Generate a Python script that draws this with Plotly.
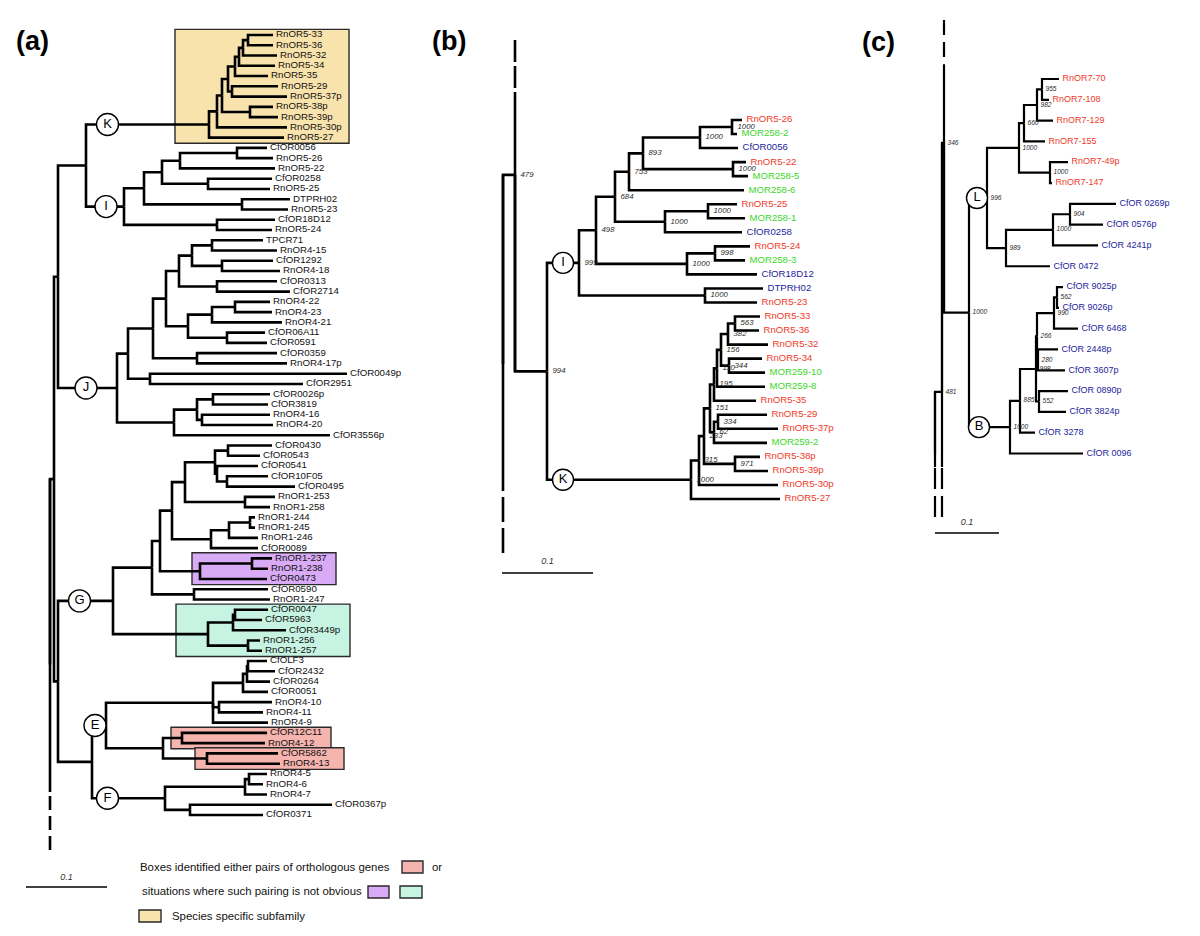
import plotly.graph_objects as go

FONT = "Liberation Sans, Arial, Helvetica, sans-serif"

# ============================ DATA ============================
# Trees in Newick form. Internal labels: bootstrap value and/or clade letter ("999|I").
# Branch lengths are in drawing units; UNITS_PER_01 units correspond to 0.1 subst./site.

# ---- Panel (a)
A_K = "((((((((RnOR5-33:25,RnOR5-36:25):5,RnOR5-32:34):4,RnOR5-34:36):4,RnOR5-35:33):7,(RnOR5-29:46,RnOR5-37p:55):4):6,(RnOR5-38p:23,RnOR5-39p:28):28):5,RnOR5-30p:70):8,RnOR5-27:75)K:123"
A_I = "(((((CfOR0056:30,RnOR5-26:36):57,RnOR5-22:95):18,(CfOR0258:64,RnOR5-25:62):46):18,(DTPRH02:48,RnOR5-23:46):98):20,(CfOR18D12:58,RnOR5-24:55):93)I:38"
A_J = "(((((((TPCR71:51,RnOR4-15:65):20,(CfOR1292:51,RnOR4-18:58):30):13,(CfOR0313:60,CfOR2714:73):38):13,(((RnOR4-22:35,RnOR4-23:37):23,RnOR4-21:70):24,(CfOR06A11:38,CfOR0591:40):39):22):13,(CfOR0359:80,RnOR4-17p:90):44):25,(CfOR0049p:197,CfOR2951:153):22):11,(((CfOR0026p:57,CfOR3819:55):16,(RnOR4-16:68,RnOR4-20:71):5):23,CfOR3556p:156):57)J:59"
A_G = "(((((((CfOR0430:44,CfOR0543:32):13,(CfOR0541:41,(CfOR10F05:41,CfOR0495:68):10):2):30,(RnOR1-253:30,RnOR1-258:25):60):13,(((RnOR1-244:5,RnOR1-245:5):21,RnOR1-246:29):18,CfOR0089:47):39):12,((RnOR1-237:20,RnOR1-238:16):52,CfOR0473:67):40):8,(CfOR0590:74,RnOR1-247:76):42):39,(((CfOR0047:33,CfOR5963:27):2,CfOR3449p:53):25,(RnOR1-256:12,RnOR1-257:14):40):95)G:55"
A_E = "(((((CfOLF3:19,CfOR2432:27):1,CfOR0264:23):4,CfOR0051:25):30,(RnOR4-10:53,RnOR4-11:44):6,RnOR4-9:55):107,((CfOR12C11:85,RnOR4-12:83):19,(CfOR5862:71,RnOR4-13:73):44):57)E:14"
A_F = "(((RnOR4-5:18,RnOR4-6:14):4,RnOR4-7:22):80,(CfOR0367p:142,CfOR0371:73):25)F:73"
TREE_A = f"(((({A_K},{A_I}):28,{A_J}):4,({A_G},({A_E},{A_F}):34):4):4,_out:0)"

# ---- Panel (b)
B_I = "(((((((RnOR5-26:10,MOR258-2:5)1000:32,CfOR0056:38)1000:57,(RnOR5-22:13,MOR258-5:15)1000:90)893:14,MOR258-6:115)753:14,((RnOR5-25:29,MOR258-1:37)1000:43,CfOR0258:77)1000:50)684:19,((RnOR5-24:35,MOR258-3:30)998:28,CfOR18D12:70)1000:91)498:17,(DTPRH02:58,RnOR5-23:52)1000:126)999|I:32"
B_K = "(((((((((RnOR5-33:25,RnOR5-36:24)563:7,RnOR5-32:40)382:7,(RnOR5-34:33,MOR259-10:36)344:8)156:4,MOR259-8:48)110:3,RnOR5-35:42)195:4,((RnOR5-29:49,RnOR5-37p:60)334:4,MOR259-2:53)62:4)151:6,(RnOR5-38p:25,RnOR5-39p:33)971:31)233:5,RnOR5-30p:79)315:8,RnOR5-27:89)1000|K:144"
TREE_B = f"((_top:0,({B_I},{B_K})994:32)479:12,_out:0)"

# ---- Panel (c)
C_L = "(((((RnOR7-70:17,RnOR7-108:7)955:5,RnOR7-129:16)982:13,RnOR7-155:21)660:5,(RnOR7-49p:18,RnOR7-147:2)1000:31)1000:32,(((CfOR 0269p:46,CfOR 0576p:33)904:17,CfOR 4241p:45)1000:47,CfOR 0472:44)989:19)996|L:18"
C_B = "((((((CfOR 9025p:6,CfOR 9026p:2)562:3,CfOR 6468:24)990:17,(CfOR 2448p:20,CfOR 3607p:27)280:1)266:1,(CfOR 0890p:29,CfOR 3824p:27)552:3)998:16,CfOR 3278:15)885:10,CfOR 0096:73)1000|B:41"
TREE_C = f"(((_topN:0,({C_L},{C_B})1000:25)346:2,_outN:0)481:7,_outR:0)"

# Boxes of panel (a): first leaf, last leaf, left/right (drawing units from root), fill
A_BOXES = [
    ("RnOR5-33", "RnOR5-27", 125, 299, "#F9E3AC"),
    ("RnOR1-237", "CfOR0473", 142, 286, "#D9ABF6"),
    ("CfOR0047", "RnOR1-257", 126, 300, "#C7F4E2"),
    ("CfOR12C11", "RnOR4-12", 121, 281, "#F6B4AF"),
    ("CfOR5862", "RnOR4-13", 145, 294, "#F6B4AF"),
]
LEGEND_TEXT = [
    "Boxes identified either pairs of orthologous genes",
    "or",
    "situations where such pairing is not obvious",
    "Species specific subfamily",
]
PANEL_LABELS = ["(a)", "(b)", "(c)"]
SCALE_LABEL = "0.1"

RED, GREEN, BLUE = "#EE3A28", "#3CD72A", "#1E1E9C"

# ============================ LAYOUT / STYLE ============================
PAGE_MARGIN = 8            # browser body margin around the plot div
W, H = 1200 - 2 * PAGE_MARGIN, 936 - 2 * PAGE_MARGIN
PANELS = [
    dict(tree=TREE_A, sfx="", units=81.0, root_px=50, first_px=35, last_px=815,
         phantoms={"_out": (79.41, 79.41, 5.65, "14px,6px")},
         circles={"K": 21.5, "I": 20, "J": 28, "G": 21.5, "E": 3, "F": 15.5}, csize=22,
         lw=2.6, fsize=9.7, tipgap=3, colored=False, bsize=7.6, bgap=5,
         scale=dict(x0=-24, y=887, ly=878)),
    dict(tree=TREE_B, sfx="2", units=91.0, root_px=503, first_px=120, last_px=499,
         phantoms={"_top": (-10.08, -5.70, 3.92, "22px,4px"),
                   "_out": (30.85, 30.85, 4.49, "25px,6px")},
         circles={"I": 16, "K": 16}, csize=21,
         lw=2.6, fsize=9.6, tipgap=4.5, colored=True, bsize=7.8, bgap=5.5,
         scale=dict(x0=-1, y=573, ly=562)),
    dict(tree=TREE_C, sfx="3", units=64.0, root_px=935, first_px=79, last_px=453.5,
         phantoms={"_topN": (-5.08, -2.84, 2.16, "15px,7px"),
                   "_outN": (27.01, 21.05, 2.40, "21px,7px"),
                   "_outR": (21.05, 21.05, 2.40, "21px,7px")},
         circles={"L": 8, "B": 10}, csize=21,
         lw=2.2, fsize=9.0, tipgap=3.5, colored=True, bsize=6.6, bgap=3.5,
         scale=dict(x0=0, y=533, ly=523)),
]


def parse_newick(s):
    s = s.strip().rstrip(";")
    pos = 0

    def read_node():
        nonlocal pos
        node = {"children": [], "name": "", "len": 0.0, "parent": None}
        if s[pos] == "(":
            pos += 1
            while True:
                child = read_node()
                child["parent"] = node
                node["children"].append(child)
                ch = s[pos]
                pos += 1
                if ch == ")":
                    break
                if ch != ",":
                    raise ValueError("bad newick near: " + s[max(0, pos - 20):pos + 20])
        start = pos
        while pos < len(s) and s[pos] not in ",():":
            pos += 1
        node["name"] = s[start:pos].strip()
        if pos < len(s) and s[pos] == ":":
            pos += 1
            start = pos
            while pos < len(s) and s[pos] not in ",()":
                pos += 1
            node["len"] = float(s[start:pos])
        return node

    root = read_node()
    if pos != len(s):
        raise ValueError("trailing text in newick: " + s[pos:])
    return root


def layout_tree(root, phantoms):
    nodes = []
    counter = [0]

    def walk(n, x0):
        n["x"] = x0 + n["len"]
        nodes.append(n)
        if n["children"]:
            for c in n["children"]:
                walk(c, n["x"])
            n["y"] = (n["children"][0]["y"] + n["children"][-1]["y"]) / 2.0
        elif n["name"] in phantoms:
            n["phantom"] = True
            n["y"] = phantoms[n["name"]][0]
        else:
            n["y"] = float(counter[0])
            counter[0] += 1

    walk(root, 0.0)
    return nodes, counter[0]


def split_label(name):
    boot, clade = "", ""
    for part in name.split("|"):
        part = part.strip()
        if part.isdigit():
            boot = part
        elif part:
            clade = part
    return boot, clade


def leaf_color(name):
    if name.startswith("RnOR"):
        return RED
    if name.startswith("MOR"):
        return GREEN
    return BLUE


fig = go.Figure()
shapes = []
annotations = []
layout_axes = {}

for P in PANELS:
    root = parse_newick(P["tree"])
    nodes, nleaves = layout_tree(root, P["phantoms"])
    u = 0.1 / P["units"]
    root_px = P["root_px"] - PAGE_MARGIN
    first_px = P["first_px"] - PAGE_MARGIN
    sp = (P["last_px"] - P["first_px"]) / (nleaves - 1)
    xa, ya = "x" + P["sfx"], "y" + P["sfx"]
    xr = [-root_px * u, (W - root_px) * u]
    yr = [(H - first_px) / sp, -first_px / sp]
    layout_axes["xaxis" + P["sfx"]] = dict(domain=[0, 1], range=xr, visible=False,
                                           fixedrange=True, anchor=ya)
    layout_axes["yaxis" + P["sfx"]] = dict(domain=[0, 1], range=yr, visible=False,
                                           fixedrange=True, anchor=xa)

    lx, ly = [], []
    dashed = []
    leaves, boots, circ = [], [], []
    for n in nodes:
        kids = n["children"]
        if not kids:
            if not n.get("phantom"):
                leaves.append(n)
            continue
        real = [c for c in kids if not c.get("phantom")]
        for c in real:
            lx += [n["x"] * u, n["x"] * u, c["x"] * u, None]
            ly += [n["y"], c["y"], c["y"], None]
        for c in kids:
            if not c.get("phantom"):
                continue
            _, end, dlen, pattern = P["phantoms"][c["name"]]
            lo = min(r["y"] for r in real)
            hi = max(r["y"] for r in real)
            if end < lo:
                start, mid = lo, end + dlen
            else:
                start, mid = hi, end - dlen
            lx += [n["x"] * u, n["x"] * u, None]
            ly += [start, mid, None]
            dashed.append((n["x"] * u, end, mid, pattern))
        boot, clade = split_label(n["name"])
        if boot:
            boots.append(((n["x"] + P["bgap"]) * u, n["y"], boot))
        if clade and n["parent"] is not None:
            circ.append(((n["parent"]["x"] + P["circles"][clade]) * u, n["y"], clade))

    fig.add_trace(go.Scatter(x=lx, y=ly, mode="lines", xaxis=xa, yaxis=ya,
                             line=dict(color="black", width=P["lw"]),
                             hoverinfo="skip", showlegend=False))
    for (x, y0, y1, pattern) in dashed:
        fig.add_trace(go.Scatter(x=[x, x], y=[y0, y1], mode="lines", xaxis=xa, yaxis=ya,
                                 line=dict(color="black", width=P["lw"], dash=pattern),
                                 hoverinfo="skip", showlegend=False))

    # leaf labels
    groups = {}
    for lf in leaves:
        col = leaf_color(lf["name"]) if P["colored"] else "#111111"
        groups.setdefault(col, []).append(lf)
    for col, lst in groups.items():
        fig.add_trace(go.Scatter(
            x=[(lf["x"] + P["tipgap"]) * u for lf in lst], y=[lf["y"] for lf in lst],
            text=[lf["name"] for lf in lst], mode="text", textposition="middle right",
            textfont=dict(family=FONT, size=P["fsize"], color=col),
            xaxis=xa, yaxis=ya, hoverinfo="skip", showlegend=False, cliponaxis=False))

    # bootstrap values
    if boots:
        fig.add_trace(go.Scatter(
            x=[b[0] for b in boots], y=[b[1] for b in boots],
            text=["<i>%s</i>" % b[2] for b in boots], mode="text", textposition="middle right",
            textfont=dict(family=FONT, size=P["bsize"], color="#2a2a2a"),
            xaxis=xa, yaxis=ya, hoverinfo="skip", showlegend=False, cliponaxis=False))

    # clade circles
    if circ:
        fig.add_trace(go.Scatter(
            x=[c[0] for c in circ], y=[c[1] for c in circ], text=[c[2] for c in circ],
            mode="markers+text", textposition="middle center",
            marker=dict(symbol="circle", size=P["csize"], color="white",
                        line=dict(color="black", width=1.4)),
            textfont=dict(family=FONT, size=13, color="black"),
            xaxis=xa, yaxis=ya, hoverinfo="skip", showlegend=False, cliponaxis=False))

    # scale bar
    sc = P["scale"]
    yb = (sc["y"] - P["first_px"]) / sp
    fig.add_trace(go.Scatter(x=[sc["x0"] * u, sc["x0"] * u + 0.1], y=[yb, yb], mode="lines",
                             line=dict(color="black", width=1.3), xaxis=xa, yaxis=ya,
                             hoverinfo="skip", showlegend=False))
    fig.add_trace(go.Scatter(x=[sc["x0"] * u + 0.05], y=[(sc["ly"] - P["first_px"]) / sp],
                             text=["<i>%s</i>" % SCALE_LABEL], mode="text",
                             textposition="middle center",
                             textfont=dict(family=FONT, size=9, color="#333333"),
                             xaxis=xa, yaxis=ya, hoverinfo="skip", showlegend=False))

    # boxes (panel a only)
    if P["sfx"] == "":
        leaf_y = {lf["name"]: lf["y"] for lf in leaves}
        for first, last, left, right, fill in A_BOXES:
            shapes.append(dict(type="rect", xref=xa, yref=ya, layer="below",
                               x0=left * u, x1=right * u,
                               y0=leaf_y[first] - 0.55, y1=leaf_y[last] + 0.55,
                               fillcolor=fill, line=dict(color="#2a2a2a", width=1.4)))


def px(x):
    return (x - PAGE_MARGIN) / W


def py(y):
    return 1 - (y - PAGE_MARGIN) / H


# legend (panel a)
legend_pos = [(138, 867), (430, 867), (140, 891), (170, 916)]
for txt, (x, y) in zip(LEGEND_TEXT, legend_pos):
    annotations.append(dict(x=px(x), y=py(y), xref="paper", yref="paper", text=txt,
                            showarrow=False, xanchor="left", yanchor="middle",
                            font=dict(family=FONT, size=11.4, color="#111111")))
swatches = [((402, 861, 423, 873), "#F6B4AF"), ((368, 886, 389, 898), "#D9ABF6"),
            ((400, 886, 422, 898), "#C7F4E2"), ((139, 910, 161, 922), "#F9E3AC")]
for (x0, y0, x1, y1), fill in swatches:
    shapes.append(dict(type="rect", xref="paper", yref="paper",
                       x0=px(x0), x1=px(x1), y0=py(y1), y1=py(y0),
                       fillcolor=fill, line=dict(color="#2a2a2a", width=1.4)))

for txt, (x, y) in zip(PANEL_LABELS, [(32, 41), (449, 41), (878, 42)]):
    annotations.append(dict(x=px(x), y=py(y), xref="paper", yref="paper",
                            text="<b>%s</b>" % txt, showarrow=False,
                            xanchor="center", yanchor="middle",
                            font=dict(family=FONT, size=27, color="black")))

fig.update_layout(
    width=W, height=H, margin=dict(l=0, r=0, t=0, b=0),
    paper_bgcolor="white", plot_bgcolor="rgba(0,0,0,0)",
    showlegend=False, shapes=shapes, annotations=annotations,
    **layout_axes,
)

fig.write_html("out.html")
